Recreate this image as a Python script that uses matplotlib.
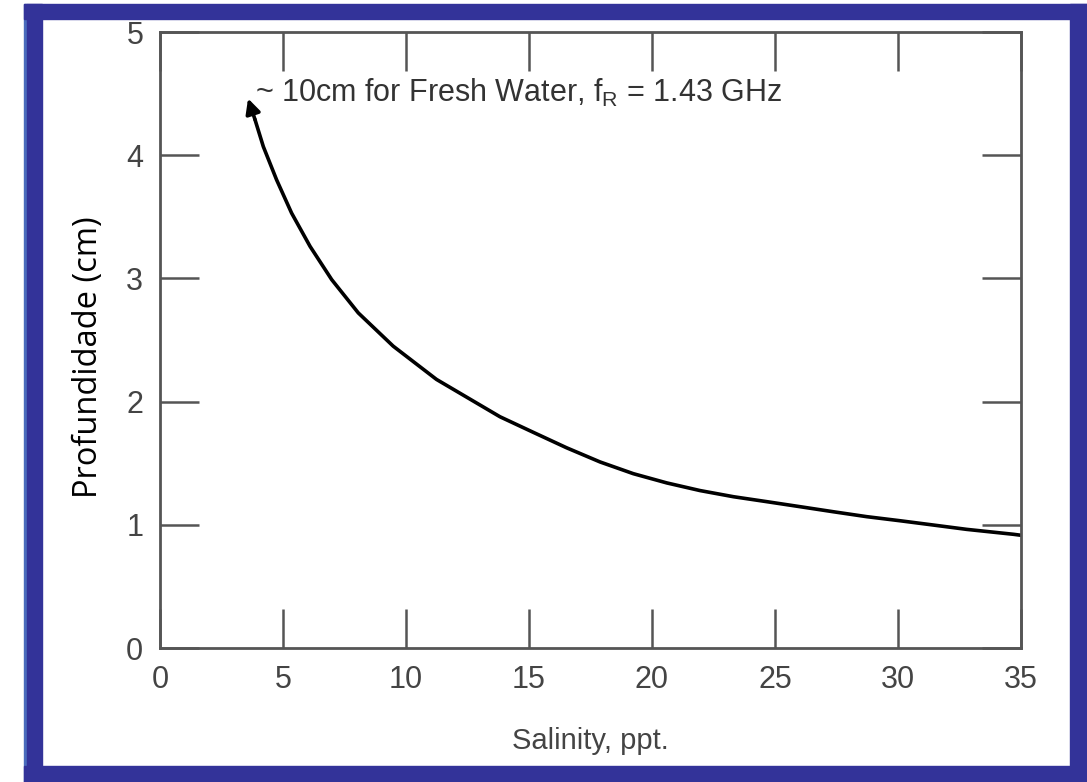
import numpy as np
import matplotlib.pyplot as plt
from matplotlib.patches import Rectangle

# 曲线数据，第一个点是箭头尖端
salinity = [3.58, 3.86, 4.20, 4.74, 5.35, 6.10, 6.98, 8.06, 9.48, 11.24,
            13.82, 15.18, 16.53, 17.89, 19.24, 20.60, 21.95, 23.31, 24.66,
            26.02, 27.37, 28.73, 30.08, 31.44, 32.79, 34.69, 35.0]
depth = [4.46, 4.29, 4.07, 3.80, 3.53, 3.26, 2.99, 2.72, 2.45, 2.18,
         1.877, 1.750, 1.625, 1.510, 1.415, 1.340, 1.278, 1.228, 1.188,
         1.147, 1.106, 1.066, 1.033, 0.998, 0.963, 0.923, 0.915]

x_ticks = [0, 5, 10, 15, 20, 25, 30, 35]
y_ticks = [0, 1, 2, 3, 4, 5]

BLUE = '#333399'
GRAY = '#444444'

fig = plt.figure(figsize=(10.87, 7.82), dpi=100)

# 蓝色边框
W, H = 1087, 782
def frame_rect(x0, y0, w, h, color):
    fig.patches.append(Rectangle((x0 / W, y0 / H), w / W, h / H,
                                 transform=fig.transFigure, color=color, zorder=0))

frame_rect(24, 0, 3, H - 4, '#4a6cbc')
frame_rect(27, 0, 15, H - 4, BLUE)
frame_rect(24, H - 19, W - 24, 15, BLUE)
frame_rect(1070, 0, 17, H - 4, BLUE)
frame_rect(24, 0, W - 24, 16, BLUE)

ax = fig.add_axes([160 / W, (H - 648) / H, (1021 - 160) / W, (648 - 32) / H])
ax.set_xlim(0, 35)
ax.set_ylim(0, 5)

# 曲线 + 箭头
ax.plot(salinity[1:], depth[1:], color='black', lw=2.6,
        solid_joinstyle='round', solid_capstyle='round')
ax.annotate('', xy=(salinity[0], depth[0]), xytext=(salinity[1], depth[1]),
            arrowprops=dict(arrowstyle='-|>', color='black', lw=2.6,
                            mutation_scale=22, shrinkA=0, shrinkB=0))

ax.text(3.86, 4.43, '~ 10cm for Fresh Water, f$_\\mathregular{R}$ = 1.43 GHz',
        fontsize=22, family='Liberation Sans', color='#333333', va='baseline')

for s in ax.spines.values():
    s.set_color('#555555')
    s.set_linewidth(2)

ax.set_xticks(x_ticks)
ax.set_yticks(y_ticks)
ax.tick_params(direction='in', length=28, width=1.8, color='#555555',
               top=True, right=True, labelsize=22, labelcolor=GRAY)
ax.tick_params(axis='x', pad=12)
ax.tick_params(axis='y', pad=12)
for lab in ax.get_xticklabels() + ax.get_yticklabels():
    lab.set_family('Liberation Sans')

ax.set_xlabel('Salinity, ppt.', fontsize=21, family='Liberation Sans', color=GRAY, va='top')
ax.xaxis.set_label_coords(0.5, -0.128)
ax.set_ylabel('Profundidade (cm)', fontsize=23.5, family='Open Sans', color='black')
ax.yaxis.set_label_coords(-0.064, 0.472)

fig.savefig('out.png', dpi=100)
